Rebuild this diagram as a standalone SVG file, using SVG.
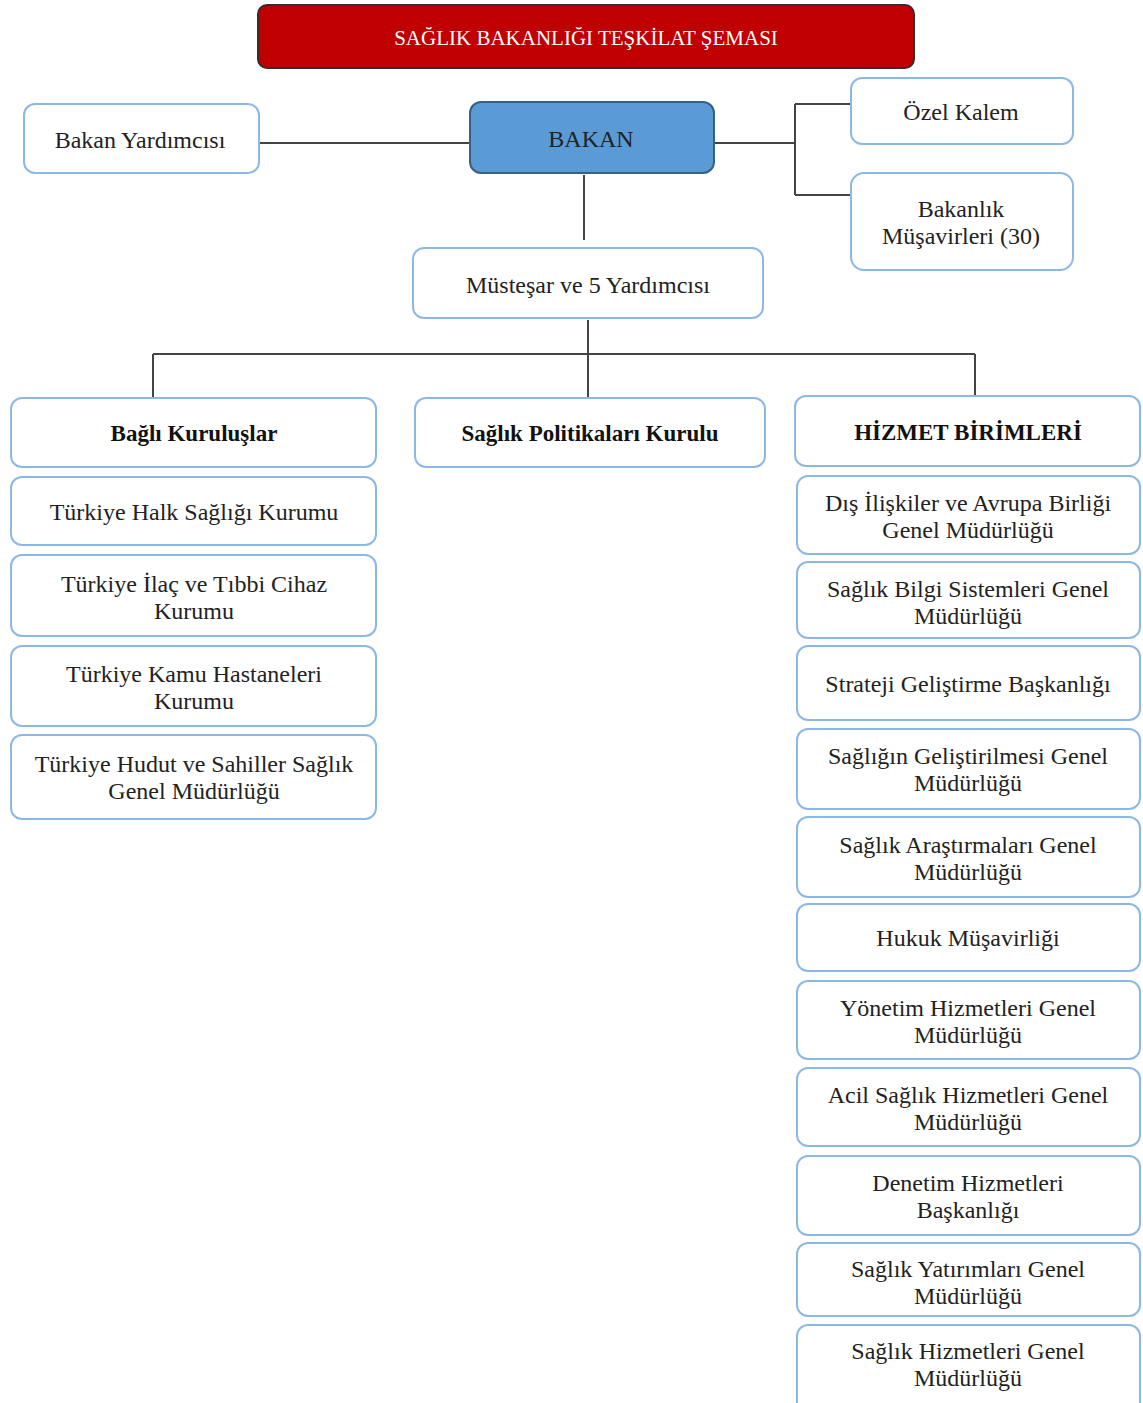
<svg xmlns="http://www.w3.org/2000/svg" width="1143" height="1403" viewBox="0 0 1143 1403">
<style>
.box{fill:#fff;stroke:#8DB8E6;stroke-width:2}
.t{font-family:"Liberation Serif","DejaVu Serif",serif;font-size:24px;fill:#222;text-anchor:middle}
.b{font-weight:bold;fill:#111;font-size:23px}
.ln{fill:none;stroke:#444;stroke-width:2}
</style>
<rect width="1143" height="1403" fill="#fff"/>
<g id="title">
<rect x="258" y="5" width="656" height="63" rx="9" fill="#C00000" stroke="#3a2a2a" stroke-width="2"/>
<text class="t" x="586" y="45" style="fill:#fff;font-size:21px">SAĞLIK BAKANLIĞI TEŞKİLAT ŞEMASI</text>
</g>
<g id="connectors">
<path class="ln" d="M259 143H470"/>
<path class="ln" d="M714 143H795M795 104V195M795 104H851M795 195H851"/>
<path class="ln" d="M584 175V240"/>
<path class="ln" d="M588 320V398M153 354H975M153 354V398M975 354V396"/>
</g>
<g id="bakan-yardimcisi"><rect class="box" x="24" y="104" width="235" height="69" rx="11"/><text class="t" x="140" y="148">Bakan Yardımcısı</text></g>
<g id="bakan"><rect x="470" y="102" width="244" height="71" rx="11" fill="#5B9BD5" stroke="#3A5F85" stroke-width="2"/><text class="t" x="591" y="147">BAKAN</text></g>
<g id="ozel-kalem"><rect class="box" x="851" y="78" width="222" height="66" rx="11"/><text class="t" x="961" y="120">Özel Kalem</text></g>
<g id="musavirler"><rect class="box" x="851" y="173" width="222" height="97" rx="13"/><text class="t" x="961" y="217">Bakanlık</text><text class="t" x="961" y="244">Müşavirleri (30)</text></g>
<g id="mustesar"><rect class="box" x="413" y="248" width="350" height="70" rx="11"/><text class="t" x="588" y="293">Müsteşar ve 5 Yardımcısı</text></g>
<g id="bagli-kuruluslar"><rect class="box" x="11" y="398" width="365" height="69" rx="11"/><text class="t b" x="194" y="441">Bağlı Kuruluşlar</text></g>
<g id="politikalar"><rect class="box" x="415" y="398" width="350" height="69" rx="11"/><text class="t b" x="590" y="441">Sağlık Politikaları Kurulu</text></g>
<g id="hizmet-birimleri"><rect class="box" x="795" y="396" width="345" height="70" rx="11"/><text class="t b" x="968" y="440">HİZMET BİRİMLERİ</text></g>
<g id="halk-sagligi"><rect class="box" x="11" y="477" width="365" height="68" rx="11"/><text class="t" x="194" y="520">Türkiye Halk Sağlığı Kurumu</text></g>
<g id="ilac"><rect class="box" x="11" y="555" width="365" height="81" rx="11"/><text class="t" x="194" y="592">Türkiye İlaç ve Tıbbi Cihaz</text><text class="t" x="194" y="619">Kurumu</text></g>
<g id="kamu-hastaneleri"><rect class="box" x="11" y="646" width="365" height="80" rx="11"/><text class="t" x="194" y="682">Türkiye Kamu Hastaneleri</text><text class="t" x="194" y="709">Kurumu</text></g>
<g id="hudut"><rect class="box" x="11" y="735" width="365" height="84" rx="11"/><text class="t" x="194" y="772">Türkiye Hudut ve Sahiller Sağlık</text><text class="t" x="194" y="799">Genel Müdürlüğü</text></g>
<g id="dis-iliskiler"><rect class="box" x="797" y="476" width="343" height="78" rx="11"/><text class="t" x="968" y="511">Dış İlişkiler ve Avrupa Birliği</text><text class="t" x="968" y="538">Genel Müdürlüğü</text></g>
<g id="bilgi-sistemleri"><rect class="box" x="797" y="562" width="343" height="76" rx="11"/><text class="t" x="968" y="597">Sağlık Bilgi Sistemleri Genel</text><text class="t" x="968" y="624">Müdürlüğü</text></g>
<g id="strateji"><rect class="box" x="797" y="646" width="343" height="74" rx="11"/><text class="t" x="968" y="692">Strateji Geliştirme Başkanlığı</text></g>
<g id="gelistirilmesi"><rect class="box" x="797" y="729" width="343" height="80" rx="11"/><text class="t" x="968" y="764">Sağlığın Geliştirilmesi Genel</text><text class="t" x="968" y="791">Müdürlüğü</text></g>
<g id="arastirmalari"><rect class="box" x="797" y="817" width="343" height="80" rx="11"/><text class="t" x="968" y="853">Sağlık Araştırmaları Genel</text><text class="t" x="968" y="880">Müdürlüğü</text></g>
<g id="hukuk"><rect class="box" x="797" y="904" width="343" height="67" rx="11"/><text class="t" x="968" y="946">Hukuk Müşavirliği</text></g>
<g id="yonetim"><rect class="box" x="797" y="981" width="343" height="78" rx="11"/><text class="t" x="968" y="1016">Yönetim Hizmetleri Genel</text><text class="t" x="968" y="1043">Müdürlüğü</text></g>
<g id="acil"><rect class="box" x="797" y="1068" width="343" height="78" rx="11"/><text class="t" x="968" y="1103">Acil Sağlık Hizmetleri Genel</text><text class="t" x="968" y="1130">Müdürlüğü</text></g>
<g id="denetim"><rect class="box" x="797" y="1156" width="343" height="79" rx="11"/><text class="t" x="968" y="1191">Denetim Hizmetleri</text><text class="t" x="968" y="1218">Başkanlığı</text></g>
<g id="yatirimlar"><rect class="box" x="797" y="1243" width="343" height="73" rx="11"/><text class="t" x="968" y="1277">Sağlık Yatırımları Genel</text><text class="t" x="968" y="1304">Müdürlüğü</text></g>
<g id="saglik-hizmetleri"><rect class="box" x="797" y="1325" width="343" height="90" rx="11"/><text class="t" x="968" y="1359">Sağlık Hizmetleri Genel</text><text class="t" x="968" y="1386">Müdürlüğü</text></g>
</svg>
